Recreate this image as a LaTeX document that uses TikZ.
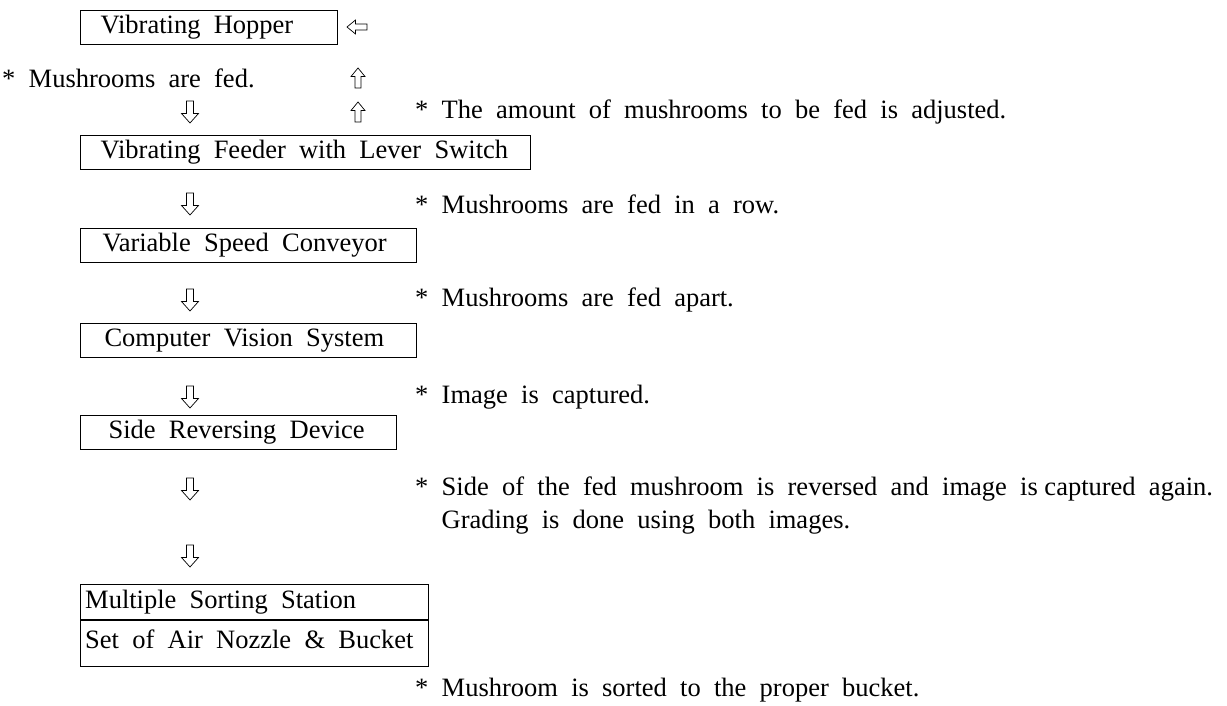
\documentclass[tikz,border=0pt]{standalone}
\usepackage{fontspec}
\setmainfont{Liberation Serif}[WordSpace=2]
\begin{document}
\begin{tikzpicture}[x=1pt,y=-1pt,
  font=\fontsize{26.5}{32}\selectfont,
  box/.style={draw, line width=1.1pt, anchor=north west, minimum height=34pt, inner sep=0pt},
  note/.style={anchor=west, inner sep=0pt},
  arrline/.style={draw, line width=0.7pt, fill=white, line join=miter},
  darr/.pic={\path[arrline] (-3.5,-11) -- (3.5,-11) -- (3.5,1.5) -- (8.5,1.5) -- (0,11) -- (-8.5,1.5) -- (-3.5,1.5) -- cycle;},
  uarr/.pic={\path[arrline] (-3,10) -- (3,10) -- (3,-1.5) -- (7,-1.5) -- (0,-10) -- (-7,-1.5) -- (-3,-1.5) -- cycle;},
  larr/.pic={\path[arrline] (10,-3) -- (10,3) -- (-1.5,3) -- (-1.5,7) -- (-10,0) -- (-1.5,-7) -- (-1.5,-3) -- cycle;}
]
\useasboundingbox (0,0) rectangle (1227,706);

% boxes
\node[box] (hop) at (80,10) {\makebox[257pt][l]{\hspace{20pt}Vibrating Hopper}};
\node[box] (feed) at (80,135) {\makebox[450pt][l]{\hspace{20pt}Vibrating Feeder with Lever Switch}};
\node[box] (conv) at (80,228) {\makebox[336pt][l]{\hspace{22pt}Variable Speed Conveyor}};
\node[box] (cvs) at (80,323) {\makebox[336pt][l]{\hspace{24pt}Computer Vision System}};
\node[box] (srd) at (80,415) {\makebox[316pt][l]{\hspace{28pt}Side Reversing Device}};
\node[box, minimum width=348pt, minimum height=82pt] (mss) at (80,584) {};
\draw[line width=1.1pt] (mss.west |- 0,620) -- (mss.east |- 0,620);
\node[note] (mss1) at (85,602) {Multiple Sorting Station};
\node[note] (mss2) at (85,639) {Set of Air Nozzle \& Bucket};

% hollow arrows
\pic at (357,27) {larr};
\pic at (358,78) {uarr};
\pic at (358,112) {uarr};
\pic at (190,112) {darr};
\pic at (190,204) {darr};
\pic at (190,300) {darr};
\pic at (190,397) {darr};
\pic at (190,489) {darr};
\pic at (190,556) {darr};

% notes
\node[note] (n0) at (2,78) {* Mushrooms are fed.};
\node[note] (n1) at (415,112) {* The amount of mushrooms to be fed is adjusted.};
\node[note] (n2) at (415,204) {* Mushrooms are fed in a row.};
\node[note] (n3) at (415,300) {* Mushrooms are fed apart.};
\node[note] (n4) at (415,397) {* Image is captured.};
\node[note] (n5) at (415,489) {* Side of the fed mushroom is reversed and image is\hspace{0.25em}captured again.};
\node[note] (n6) at (415,522) {\phantom{*}\ Grading is done using both images.};
\node[note] (n7) at (415,690) {* Mushroom is sorted to the proper bucket.};
\end{tikzpicture}
\end{document}
